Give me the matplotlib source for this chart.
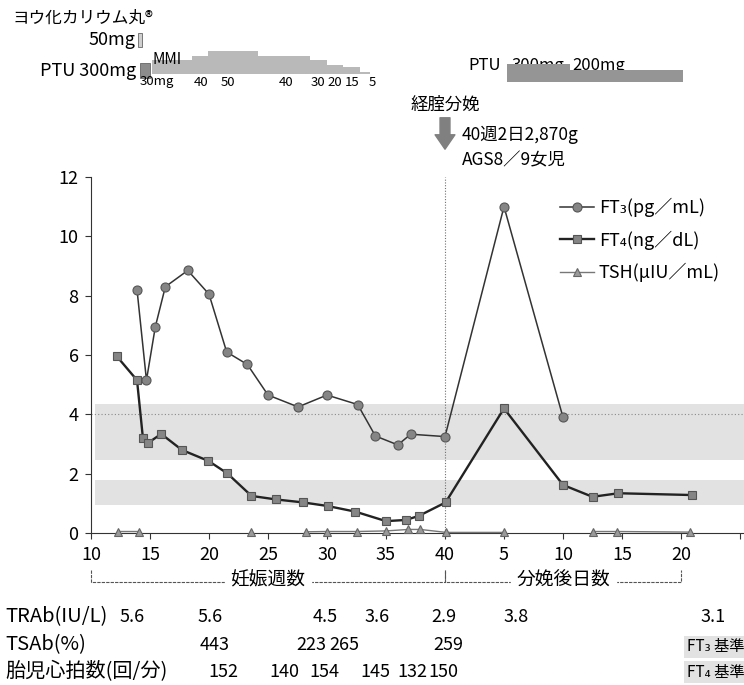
import matplotlib.pyplot as plt
import numpy as np

plt.rcParams['font.family'] = ['Noto Sans CJK JP', 'DejaVu Sans']

# --- data (x: pregnancy weeks; postpartum day d is drawn at 40 + d) ---
ft3_wk = [13.9, 14.7, 15.45, 16.3, 18.2, 20.0, 21.5, 23.25, 25.0, 27.55, 30.0, 32.6, 34.1, 36.0, 37.1, 40.0]
ft3_wk_v = [8.2, 5.15, 6.95, 8.3, 8.85, 8.05, 6.1, 5.68, 4.65, 4.25, 4.65, 4.33, 3.27, 2.97, 3.33, 3.25]
ft3_pp = [5, 10]
ft3_pp_v = [11.0, 3.9]

ft4_wk = [12.2, 13.9, 14.4, 14.85, 15.95, 17.7, 19.95, 21.55, 23.6, 25.7, 28.0, 30.05, 32.4, 35.0, 36.7, 37.8, 40.05]
ft4_wk_v = [5.95, 5.15, 3.2, 3.04, 3.34, 2.8, 2.43, 2.01, 1.25, 1.13, 1.03, 0.91, 0.72, 0.40, 0.44, 0.58, 1.03]
ft4_pp = [5, 10, 12.5, 14.7, 20.9]
ft4_pp_v = [4.2, 1.62, 1.22, 1.34, 1.28]

tsh_wk = [12.3, 14.05, np.nan, 23.6, np.nan, 28.2, 30.0, 32.5, 35.0, 36.9, 37.9, 40.1]
tsh_wk_v = [0.05, 0.05, np.nan, 0.05, np.nan, 0.04, 0.05, 0.05, 0.07, 0.12, 0.12, 0.02]
tsh_pp = [5, np.nan, 12.5, 14.6, 20.8]
tsh_pp_v = [0.02, np.nan, 0.05, 0.05, 0.03]

ft3_range = (2.45, 4.35)
ft4_range = (0.95, 1.78)

# drugs
mmi_start = [15.17, 18.56, 19.92, 24.15, 28.56, 30.0, 31.36, 32.8]
mmi_end = [18.56, 19.92, 24.15, 28.56, 30.0, 31.36, 32.8, 33.64]
mmi_dose = [30, 40, 50, 40, 30, 20, 15, 5]
mmi_lbl_x = [15.55, 19.3, 21.6, 26.5, 29.25, 30.65, 32.1, 33.85]
mmi_lbl = ['30mg', '40', '50', '40', '30', '20', '15', '5']
ptu_pre = (14.15, 15.0, 300)
ki_pre = (13.98, 14.32, 50)
ptu_pp_start = [5.25, 10.6]
ptu_pp_end = [10.6, 20.2]
ptu_pp_dose = [300, 200]

# table rows under the chart
trab_x = [13.47, 20.08, 29.83, 34.24, 39.92, 46.02, 62.7]
trab = ['5.6', '5.6', '4.5', '3.6', '2.9', '3.8', '3.1']
tsab_x = [20.5, 28.7, 31.5, 40.3]
tsab = ['443', '223', '265', '259']
fhr_x = [21.2, 26.4, 29.8, 34.1, 37.2, 39.9]
fhr = ['152', '140', '154', '145', '132', '150']

xticks = [10, 15, 20, 25, 30, 35, 40, 45, 50, 55, 60, 65]
xticklabels = ['10', '15', '20', '25', '30', '35', '40', '5', '10', '15', '20', '']

W, H = 744, 685
fig = plt.figure(figsize=(7.44, 6.85), dpi=100)


def fx(px):
    return px / W


def fy(py):
    return 1 - py / H


ax = fig.add_axes([fx(91), fy(533), fx(744) - fx(91), fy(177) - fy(533)])
xmax = 10 + (744 - 91) / 11.8
ax.set_xlim(10, xmax)
ax.set_ylim(0, 12)


def ay(py):
    # axes-y for a pixel row
    return (533 - py) / (533 - 177)


# reference bands
ax.axhspan(*ft3_range, xmin=0.006, color='#e2e2e2', zorder=0, lw=0)
ax.axhspan(*ft4_range, xmin=0.006, color='#e2e2e2', zorder=0, lw=0)
ax.axhline(4, color='#8a8a8a', ls=(0, (1, 2)), lw=0.8, zorder=1)
ax.axvline(40, ymax=1.0, color='#707070', ls=(0, (1, 1.5)), lw=0.8, zorder=1)

pp = lambda d: [40 + v for v in d]

l3, = ax.plot(ft3_wk + pp(ft3_pp), ft3_wk_v + ft3_pp_v, '-o', color='#333333', lw=1.1,
              ms=6.5, mfc='#858585', mec='#555555', mew=0.8, zorder=4)
l4, = ax.plot(ft4_wk + pp(ft4_pp), ft4_wk_v + ft4_pp_v, '-s', color='#222222', lw=1.7,
              ms=6, mfc='#858585', mec='#555555', mew=0.8, zorder=4)
lt, = ax.plot(tsh_wk + pp(tsh_pp), tsh_wk_v + tsh_pp_v, '-^', color='#777777', lw=1.0,
              ms=6, mfc='#9a9a9a', mec='#666666', mew=0.8, zorder=3, clip_on=False)

ax.spines['top'].set_visible(False)
ax.spines['right'].set_visible(False)
ax.spines['left'].set_color('#333333')
ax.spines['bottom'].set_color('#333333')
ax.set_yticks(range(0, 13, 2))
ax.set_xticks(xticks)
ax.set_xticklabels(xticklabels)
ax.tick_params(labelsize=13, length=4, direction='out', color='#333333', pad=5)

ax.legend([l3, l4, lt], ['FT₃(pg／mL)', 'FT₄(ng／dL)', 'TSH(μIU／mL)'],
          loc='upper left', bbox_to_anchor=(fx(560), fy(198)), bbox_transform=fig.transFigure,
          frameon=False, fontsize=13, handlelength=1.9, handletextpad=0.25,
          labelspacing=0.72, borderaxespad=0, borderpad=0)

# brackets under the x axis
tr = ax.get_xaxis_transform()
yb, yt = ay(582), ay(570)
for x0, x1, lbl in [(10, 40, '妊娠週数'), (40, 60, '分娩後日数')]:
    ax.plot([x0, x0, x1, x1], [yt, yb, yb, yt], transform=tr, clip_on=False,
            color='#555555', lw=0.8, ls=(0, (3, 1)))
    ax.text((x0 + x1) / 2, ay(580), lbl, transform=tr, ha='center', va='center',
            fontsize=13.5, backgroundcolor='white')

# table rows
rows = [('TRAb(IU/L)', trab_x, trab, 617),
        ('TSAb(%)', tsab_x, tsab, 645),
        ('胎児心拍数(回/分)', fhr_x, fhr, 672)]
for name, xs, vals, py in rows:
    fig.text(fx(5), fy(py), name, ha='left', va='center', fontsize=14.5)
    for x, v in zip(xs, vals):
        ax.text(x, ay(py), v, transform=tr, ha='center', va='center', fontsize=13, clip_on=False)

for lbl, py in [('FT₃ 基準', 647), ('FT₄ 基準', 672)]:
    fig.text(fx(687), fy(py), lbl, ha='left', va='center', fontsize=11,
             bbox=dict(facecolor='#e2e2e2', edgecolor='none', pad=2))

# delivery annotation
ax.text(40, ay(105), '経腟分娩', transform=tr, ha='center', va='center', fontsize=12.5)
ax.annotate('', xy=(40, ay(152)), xytext=(40, ay(115)), xycoords=tr, textcoords=tr,
            arrowprops=dict(arrowstyle='simple,head_length=0.8,head_width=1.1,tail_width=0.55',
                            color='#808080', mutation_scale=13), annotation_clip=False)
ax.text(41.4, ay(135), '40週2日2,870g', transform=tr, ha='left', va='center', fontsize=12.5)
ax.text(41.4, ay(160), 'AGS8／9女児', transform=tr, ha='left', va='center', fontsize=12.5)

# drug bars on top
axd = fig.add_axes([fx(91), fy(100), fx(744) - fx(91), 100 / H])
axd.set_xlim(10, xmax)
axd.set_ylim(100, 0)
axd.axis('off')

base = 74
axd.bar(mmi_start, [-d * 0.46 for d in mmi_dose], bottom=base,
        width=[e - s for s, e in zip(mmi_start, mmi_end)], align='edge',
        color='#b9b9b9', lw=0, zorder=2)
for x, lbl in zip(mmi_lbl_x, mmi_lbl):
    axd.text(x, 82, lbl, ha='center', va='center', fontsize=9.5, zorder=3)
axd.text(15.2, 60, 'MMI', ha='left', va='center', fontsize=11, zorder=3)

axd.bar(ptu_pre[0], -ptu_pre[2] * 0.05, bottom=78, width=ptu_pre[1] - ptu_pre[0],
        align='edge', color='#8c8c8c', edgecolor='#666666', lw=0.6)
axd.bar(ki_pre[0], -14, bottom=47, width=ki_pre[1] - ki_pre[0], align='edge',
        color='#cfcfcf', edgecolor='#666666', lw=0.6)

ppx = pp(ptu_pp_start)
axd.bar(ppx, [-d * 0.06 for d in ptu_pp_dose], bottom=82,
        width=[e - s for s, e in zip(ptu_pp_start, ptu_pp_end)], align='edge',
        color='#959595', lw=0, zorder=3)
axd.text(42.0, 66, 'PTU', ha='left', va='center', fontsize=12, zorder=2)
axd.text(45.6, 66, '300mg', ha='left', va='center', fontsize=12, zorder=2)
axd.text(50.8, 66, '200mg', ha='left', va='center', fontsize=12, zorder=2)

fig.text(fx(12), fy(18), 'ヨウ化カリウム丸®', ha='left', va='center', fontsize=12)
fig.text(fx(135), fy(40), '50mg', ha='right', va='center', fontsize=13)
fig.text(fx(136), fy(71), 'PTU 300mg', ha='right', va='center', fontsize=13)

fig.savefig('out.png', dpi=100)
